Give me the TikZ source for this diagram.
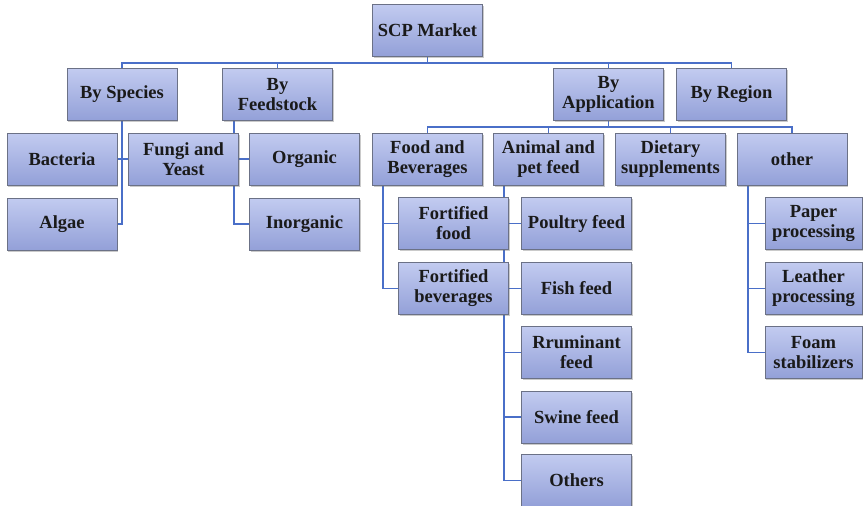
\documentclass[tikz,border=0pt]{standalone}
\usepackage{fontspec}
\setmainfont{Liberation Serif}
\usetikzlibrary{shadows}
\definecolor{boxtop}{HTML}{C2CBF0}
\definecolor{boxbot}{HTML}{93A0D8}
\definecolor{boxline}{HTML}{6B7186}
\definecolor{connblue}{HTML}{4A6FC8}
\definecolor{txt}{HTML}{1A1A1A}
\pgfdeclarelayer{bg}
\pgfsetlayers{bg,main}
\tikzset{
  box/.style={rectangle, draw=boxline, line width=0.8pt, top color=boxtop, bottom color=boxbot,
    minimum width=110pt, minimum height=52pt, inner sep=0pt, align=center,
    font=\fontsize{18.5}{20}\selectfont\bfseries, text=txt,
    drop shadow={shadow xshift=1.2pt, shadow yshift=-1.5pt, opacity=0.35, fill=black!60}},
  narrowbox/.style={box, minimum width=97pt},
  conn/.style={draw=connblue, line width=1.6pt, line cap=rect}
}
\begin{document}
\begin{tikzpicture}[x=1pt,y=-1pt]
\useasboundingbox (0,0) rectangle (868,506);
% nodes
\node[box] (scp) at (427.5,30) {SCP Market};
\node[box] (species) at (122,94.5) {By Species};
\node[box] (feed) at (277.5,94.5) {By\\Feedstock};
\node[box] (app) at (608.5,94.5) {By\\Application};
\node[box] (region) at (731.5,94.5) {By Region};
\node[box] (bacteria) at (62,159) {Bacteria};
\node[box] (algae) at (62,224) {Algae};
\node[box] (fungi) at (183.5,159) {Fungi and\\Yeast};
\node[box] (organic) at (304.5,159) {Organic};
\node[box] (inorganic) at (304.5,224) {Inorganic};
\node[box] (food) at (427.5,159) {Food and\\Beverages};
\node[box] (animal) at (548.5,159) {Animal and\\pet feed};
\node[box] (dietary) at (670.5,159) {Dietary\\supplements};
\node[box] (other) at (792,159) {other};
\node[box] (ffood) at (453.5,223.5) {Fortified\\food};
\node[box] (fbev) at (453.5,288.5) {Fortified\\beverages};
\node[box] (poultry) at (576.5,223.5) {Poultry feed};
\node[box] (fish) at (576.5,288.5) {Fish feed};
\node[box] (rum) at (576.5,352.5) {Rruminant\\feed};
\node[box] (swine) at (576.5,417) {Swine feed};
\node[box] (others) at (576.5,480.5) {Others};
\node[narrowbox] (paper) at (813.5,223.5) {Paper\\processing};
\node[narrowbox] (leather) at (813.5,288.5) {Leather\\processing};
\node[narrowbox] (foam) at (813.5,352.5) {Foam\\stabilizers};
% helper coordinates
\coordinate (bus1) at (0,63);
\coordinate (bus2) at (0,127);
\coordinate (fdx) at (234,0);
\coordinate (fbx) at (383,0);
\coordinate (abx) at (504,0);
\coordinate (obx) at (748,0);
\begin{pgfonlayer}{bg}
% level 1
\draw[conn] (species.north) -- (species.north |- bus1) -| (region.north);
\draw[conn] (scp.south) -- (scp.south |- bus1);
\draw[conn] (feed.north) -- (feed.north |- bus1);
\draw[conn] (app.north) -- (app.north |- bus1);
% by species
\draw[conn] (species.south) |- (algae.east);
\draw[conn] (bacteria.east) -- (fungi.west);
% by feedstock
\draw[conn] (fdx |- feed.south) |- (inorganic.west);
\draw[conn] (fungi.east) -- (organic.west);
% by application
\draw[conn] (food.north) -- (food.north |- bus2) -| (other.north);
\draw[conn] (app.south) -- (app.south |- bus2);
\draw[conn] (animal.north) -- (animal.north |- bus2);
\draw[conn] (dietary.north) -- (dietary.north |- bus2);
% food and beverages
\draw[conn] (fbx |- food.south) |- (fbev.west);
\draw[conn] (ffood.west) -- (ffood.west -| fbx);
% animal and pet feed
\draw[conn] (abx |- animal.south) |- (others.west);
\draw[conn] (poultry.west) -- (poultry.west -| abx);
\draw[conn] (fish.west) -- (fish.west -| abx);
\draw[conn] (rum.west) -- (rum.west -| abx);
\draw[conn] (swine.west) -- (swine.west -| abx);
% other
\draw[conn] (obx |- other.south) |- (foam.west);
\draw[conn] (paper.west) -- (paper.west -| obx);
\draw[conn] (leather.west) -- (leather.west -| obx);
\end{pgfonlayer}
\end{tikzpicture}
\end{document}
